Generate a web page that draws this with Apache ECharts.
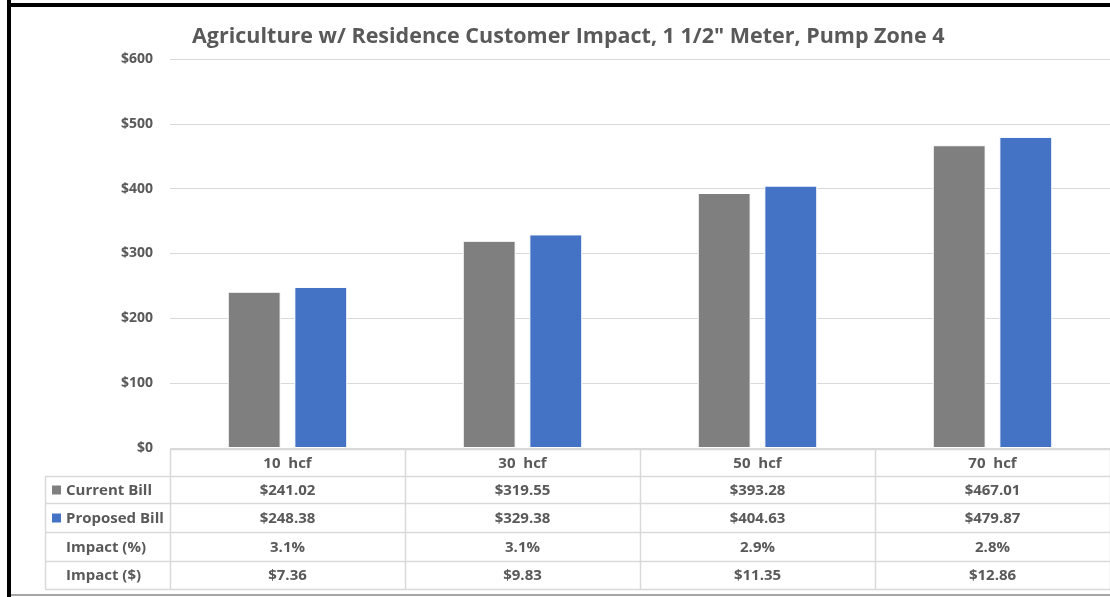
<!DOCTYPE html>
<html>
<head>
<meta charset="utf-8">
<script src="https://cdn.jsdelivr.net/npm/echarts@6/dist/echarts.min.js"></script>
<style>
html,body{margin:0;padding:0;background:#fff;}
#chart{width:1110px;height:597px;}
</style>
</head>
<body>
<div id="chart"></div>
<script>
const titleText = 'Agriculture w/ Residence Customer Impact, 1 1/2" Meter, Pump Zone 4';
const categories = ['10  hcf', '30  hcf', '50  hcf', '70  hcf'];
const seriesNames = ['Current Bill', 'Proposed Bill'];
const currentBill = [241.02, 319.55, 393.28, 467.01];
const proposedBill = [248.38, 329.38, 404.63, 479.87];
const impactPct = [3.1, 3.1, 2.9, 2.8];
const impactDollar = [7.36, 9.83, 11.35, 12.86];
const yMin = 0, yMax = 600, yStep = 100;

const FONT = '"Open Sans", "Noto Sans", sans-serif';
const TXT = '#595959';
const GRID = '#D9D9D9';
const colors = ['#7F7F7F', '#4472C4'];

const chart = echarts.init(document.getElementById('chart'), null, {renderer: 'canvas'});
const option = {
  animation: false,
  backgroundColor: '#fff',
  title: {
    text: titleText,
    left: 187, top: 21,
    textStyle: {fontFamily: FONT, fontSize: 21.5, fontWeight: 'bold', color: TXT}
  },
  grid: {left: 170, right: -2, top: 59, bottom: 149, containLabel: false},
  xAxis: {
    type: 'category', data: categories,
    axisLine: {show: false}, axisTick: {show: false}, axisLabel: {show: false}
  },
  yAxis: {
    type: 'value', min: yMin, max: yMax, interval: yStep,
    axisLine: {show: false}, axisTick: {show: false},
    axisLabel: {formatter: v => '$' + v, color: TXT, fontFamily: FONT, fontWeight: 'bold', fontSize: 14, margin: 17},
    splitLine: {lineStyle: {color: GRID, width: 1}}
  },
  series: [
    {name: seriesNames[0], type: 'bar', data: currentBill, barWidth: '22.5%', barGap: '26%',
     itemStyle: {color: colors[0], borderColor: '#fff', borderWidth: 1}},
    {name: seriesNames[1], type: 'bar', data: proposedBill, barWidth: '22.5%', barGap: '26%',
     itemStyle: {color: colors[1], borderColor: '#fff', borderWidth: 1}}
  ]
};
chart.setOption(option);

// Data table below the plot, positioned from the category axis
const c0 = chart.convertToPixel({xAxisIndex: 0}, 0);
const c1 = chart.convertToPixel({xAxisIndex: 0}, 1);
const band = c1 - c0;
const plotLeft = c0 - band / 2;
const plotRight = plotLeft + band * categories.length;
const yAxisZero = chart.convertToPixel({yAxisIndex: 0}, 0);
const rowLines = [yAxisZero + 1, 476, 503, 532, 561, 589];
const tableLeft = 45;
const els = [];
const font = 'bold 15px ' + FONT;
function hline(y, x1, x2, color, w) {
  els.push({type: 'line', z: 50, shape: {x1: x1, y1: y, x2: x2, y2: y}, style: {stroke: color, lineWidth: w || 1}});
}
function vline(x, y1, y2, color, w) {
  els.push({type: 'line', z: 50, shape: {x1: x, y1: y1, x2: x, y2: y2}, style: {stroke: color, lineWidth: w || 1}});
}
function text(str, x, y, align) {
  els.push({type: 'text', z: 60, style: {text: str, x: x, y: y, fill: TXT, font: font, align: align || 'center', verticalAlign: 'middle'}});
}
hline(Math.round(rowLines[0]) + 0.5, plotLeft, plotRight + 5, GRID, 1.5);
for (let i = 1; i < rowLines.length; i++) hline(rowLines[i] + 0.5, tableLeft, plotRight + 5, GRID, 1.5);
for (let i = 0; i <= categories.length; i++) vline(Math.round(plotLeft + band * i) + 0.5, rowLines[0], rowLines[5], GRID, 1.5);
vline(tableLeft + 0.5, rowLines[1], rowLines[5], GRID, 1.5);

const rowCenters = [];
for (let i = 0; i < 5; i++) rowCenters.push((rowLines[i] + rowLines[i + 1]) / 2 + 1);
const rows = [
  categories,
  currentBill.map(v => '$' + v.toFixed(2)),
  proposedBill.map(v => '$' + v.toFixed(2)),
  impactPct.map(v => v.toFixed(1) + '%'),
  impactDollar.map(v => '$' + v.toFixed(2))
];
rows.forEach((row, r) => {
  row.forEach((s, i) => text(s, plotLeft + band * (i + 0.5), rowCenters[r]));
});
const rowLabels = [seriesNames[0], seriesNames[1], 'Impact (%)', 'Impact ($)'];
rowLabels.forEach((s, r) => {
  const y = rowCenters[r + 1];
  if (r < 2) {
    els.push({type: 'rect', z: 60, shape: {x: 52, y: y - 5, width: 9, height: 9}, style: {fill: colors[r]}});
  }
  text(s, 66, y, 'left');
});

// outer frame
vline(9, 0, 597, '#000', 4);
hline(5, 7, 1110, '#000', 4);
hline(595, 11, 1110, '#A6A6A6', 2);

chart.setOption({graphic: els});
</script>
</body>
</html>
